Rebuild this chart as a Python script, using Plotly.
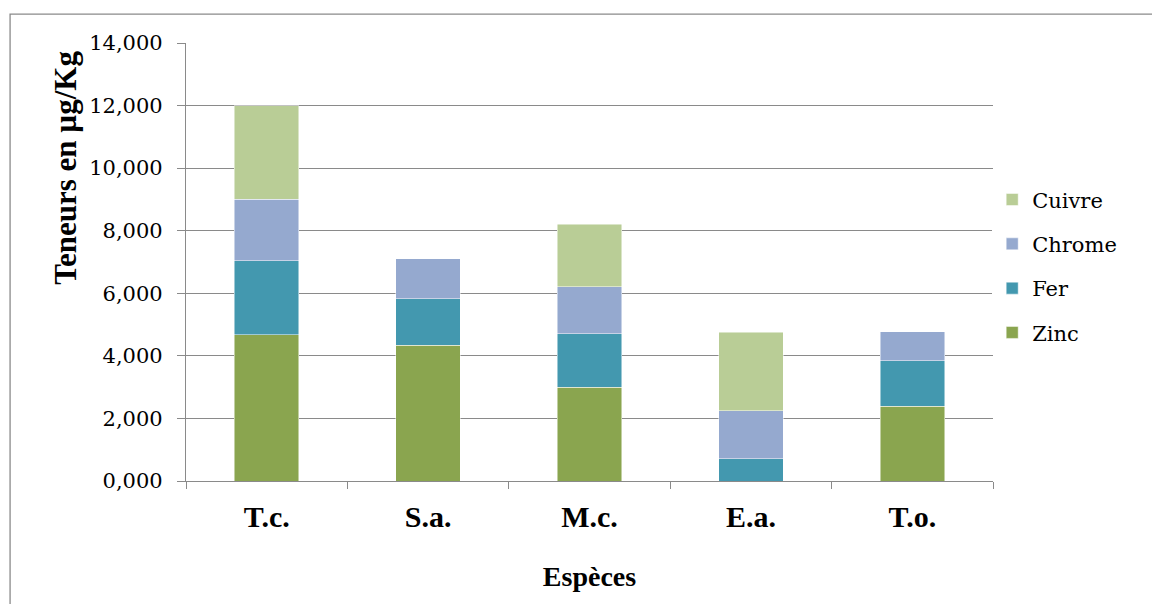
import plotly.graph_objects as go

# Teneurs en métaux par espèce
especes = ["T.c.", "S.a.", "M.c.", "E.a.", "T.o."]
zinc = [4.67, 4.34, 2.99, 0.0, 2.39]
fer = [2.37, 1.49, 1.72, 0.71, 1.46]
chrome = [1.96, 1.27, 1.50, 1.54, 0.92]
cuivre = [3.00, 0.0, 2.00, 2.51, 0.0]

series = [
    ("Zinc", zinc, "#8AA54F"),
    ("Fer", fer, "#4398AF"),
    ("Chrome", chrome, "#95A9CF"),
    ("Cuivre", cuivre, "#B9CD96"),
]

serif_gras = "Liberation Serif"
serif = "DejaVu Serif"
gris = "#8a8a8a"

fig = go.Figure()
for i, (nom, vals, couleur) in enumerate(series):
    # rang de légende inversé : Cuivre en haut, Zinc en bas
    fig.add_trace(go.Bar(x=especes, y=vals, name=nom, legendgroup=nom,
                         legendrank=1000 - i,
                         marker=dict(color=couleur, line=dict(color="rgba(255,255,255,0.6)", width=0.8))))

fig.update_layout(
    barmode="stack", bargap=0.6,
    width=1152, height=604,
    margin=dict(l=186, r=159, t=43, b=123),
    plot_bgcolor="white", paper_bgcolor="white",
    separators=", ",
    font=dict(family=serif, color="black"),
    legend=dict(x=0.999, xanchor="left", y=0.49, yanchor="middle",
                traceorder="grouped", tracegroupgap=14,
                font=dict(size=21, family=serif, color="black")),
)

fig.update_yaxes(range=[0, 14], dtick=2, tickformat=".3f", automargin=False,
                 showgrid=True, gridcolor=gris, gridwidth=1.3,
                 showline=True, linecolor=gris, linewidth=1.3,
                 ticks="outside", ticklen=8, tickcolor=gris, tickwidth=1.3,
                 tickfont=dict(size=21, family=serif, color="black"), ticklabelstandoff=10,
                 zeroline=False)

fig.update_xaxes(showline=True, linecolor=gris, linewidth=1.3, automargin=False,
                 ticks="outside", ticklen=7, tickcolor=gris, tickwidth=1.3,
                 tickson="boundaries",
                 tickfont=dict(size=30, family=serif_gras, weight="bold"), ticklabelstandoff=9,
                 title=dict(text="Espèces", standoff=34,
                            font=dict(size=28, family=serif_gras, weight="bold")))

# titre de l'axe Y placé comme dans l'original (décalé vers le haut)
fig.add_annotation(text="Teneurs en µg/Kg", textangle=-90, showarrow=False,
                   xref="paper", yref="paper", x=-0.1487, y=0.715,
                   xanchor="center", yanchor="middle",
                   font=dict(size=31, family=serif_gras, weight="bold", color="black"))

# cadre extérieur du graphique
fig.add_shape(type="rect", xref="paper", yref="paper",
              x0=-0.218, x1=1.4, y0=-0.4, y1=1.066,
              line=dict(color=gris, width=1.3), layer="below")

fig.write_html("out.html", config={"displayModeBar": False},
               post_script="document.body.style.margin='0';")
